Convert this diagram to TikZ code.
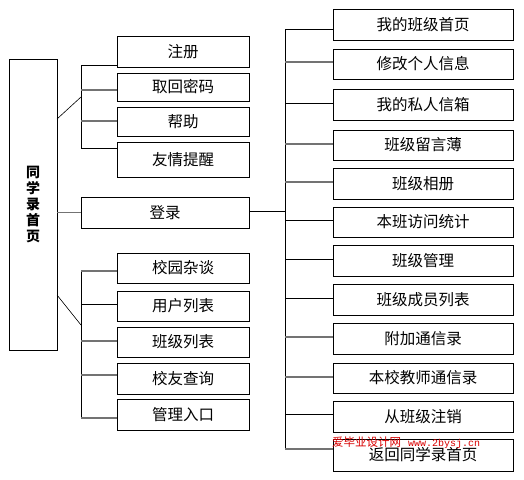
\documentclass[tikz,border=0pt]{standalone}
\usepackage{fontspec}
\setmainfont{Noto Sans CJK SC}
\newfontfamily\wmmono{Liberation Mono}
\begin{document}
\begin{tikzpicture}[x=1pt,y=-1pt,
  box/.style={draw=black,line width=0.8pt,inner sep=0pt,minimum width=#1,font=\fontsize{15.5}{17}\selectfont},
  lbox/.style={box=132pt},
  rbox/.style={box=180pt},
  ln/.style={draw=black,line width=0.8pt},
  gln/.style={draw=black!55,line width=1.4pt}]
\useasboundingbox[fill=white] (0,0) rectangle (524,479);
% main box
\node[draw,line width=0.8pt,inner sep=0pt,minimum width=48pt,minimum height=291pt] (main) at (33,204.5)
  {\fontsize{14}{16}\selectfont\bfseries\shortstack{同\\学\\录\\首\\页}\hspace{12pt}};
% left group 1
\node[lbox,minimum height=31pt] (zc) at (183,51.5) {注册};
\node[lbox,minimum height=28pt] (qh) at (183,87) {取回密码};
\node[lbox,minimum height=29pt] (bz) at (183,121.5) {帮助};
\node[lbox,minimum height=35pt] (yq) at (183,159.5) {友情提醒};
% login
\node[box=168pt,minimum height=31pt] (dl) at (165,212.5) {登录};
% left group 3
\node[lbox,minimum height=30pt] (xy) at (183,268) {校园杂谈};
\node[lbox,minimum height=30pt] (yh) at (183,306) {用户列表};
\node[lbox,minimum height=30pt] (bj) at (183,342) {班级列表};
\node[lbox,minimum height=31pt] (xc) at (183,378.5) {校友查询};
\node[lbox,minimum height=31pt] (gl) at (183,414.5) {管理入口};
% right group
\node[rbox,minimum height=31pt] (r1) at (423,24.5) {我的班级首页};
\node[rbox,minimum height=30pt] (r2) at (423,64) {修改个人信息};
\node[rbox,minimum height=31pt] (r3) at (423,104.5) {我的私人信箱};
\node[rbox,minimum height=30pt] (r4) at (423,145) {班级留言薄};
\node[rbox,minimum height=31pt] (r5) at (423,183.5) {班级相册};
\node[rbox,minimum height=30pt] (r6) at (423,222) {本班访问统计};
\node[rbox,minimum height=31pt] (r7) at (423,260.5) {班级管理};
\node[rbox,minimum height=31pt] (r8) at (423,299.5) {班级成员列表};
\node[rbox,minimum height=31pt] (r9) at (423,338.5) {附加通信录};
\node[rbox,minimum height=30pt] (r10) at (423,378) {本校教师通信录};
\node[rbox,minimum height=31pt] (r11) at (423,416.5) {从班级注销};
\node[rbox,minimum height=32pt] (r12) at (423,455) {返回同学录首页};
% left bracket 1
\coordinate (a1) at (81,65);
\coordinate (a2) at (81,90);
\coordinate (a3) at (81,121);
\coordinate (a4) at (81,148);
\coordinate (am) at (81,97);
\coordinate (m1) at (57,119);
\draw[ln] (a1) -- (a4);
\draw[ln] (a1) -- (a1 -| zc.west);
\draw[gln] (a2) -- (a2 -| qh.west);
\draw[gln] (a3) -- (a3 -| bz.west);
\draw[ln] (a4) -- (a4 -| yq.west);
\draw[ln,line width=0.6pt] (m1) -- (am);
% main to login
\draw[gln] (main.east |- dl.west) -- (dl.west);
% left bracket 3
\coordinate (c1) at (81,271);
\coordinate (c2) at (81,304);
\coordinate (c3) at (81,341);
\coordinate (c4) at (81,375);
\coordinate (c5) at (81,418);
\coordinate (cm) at (81,325);
\coordinate (m2) at (57,295);
\draw[ln] (c1) -- (c5);
\draw[gln] (c1) -- (c1 -| xy.west);
\draw[ln] (c2) -- (c2 -| yh.west);
\draw[gln] (c3) -- (c3 -| bj.west);
\draw[gln] (c4) -- (c4 -| xc.west);
\draw[gln] (c5) -- (c5 -| gl.west);
\draw[ln,line width=0.6pt] (m2) -- (cm);
% right bracket
\coordinate (b1) at (285,29);
\coordinate (b2) at (285,62);
\coordinate (b3) at (285,103);
\coordinate (b4) at (285,144);
\coordinate (b5) at (285,182);
\coordinate (b6) at (285,220);
\coordinate (b7) at (285,259);
\coordinate (b8) at (285,298);
\coordinate (b9) at (285,337);
\coordinate (b10) at (285,377);
\coordinate (b11) at (285,414);
\coordinate (b12) at (285,449);
\coordinate (bm) at (285,211);
\draw[ln] (b1) -- (b12);
\draw[ln] (dl.east |- bm) -- (bm);
\draw[ln] (b1) -- (b1 -| r1.west);
\draw[gln] (b2) -- (b2 -| r2.west);
\draw[ln] (b3) -- (b3 -| r3.west);
\draw[gln] (b4) -- (b4 -| r4.west);
\draw[gln] (b5) -- (b5 -| r5.west);
\draw[ln] (b6) -- (b6 -| r6.west);
\draw[ln] (b7) -- (b7 -| r7.west);
\draw[ln] (b8) -- (b8 -| r8.west);
\draw[gln] (b9) -- (b9 -| r9.west);
\draw[gln] (b10) -- (b10 -| r10.west);
\draw[ln] (b11) -- (b11 -| r11.west);
\draw[gln] (b12) -- (b12 -| r12.west);
% watermark
\node[anchor=west,inner sep=0pt,text=red!85!black] (wm) at (332,443)
  {\fontsize{11.5}{12}\selectfont 爱毕业设计网\hspace{7pt}{\wmmono\fontsize{10}{12}\selectfont www.2bysj.cn}};
\end{tikzpicture}
\end{document}
